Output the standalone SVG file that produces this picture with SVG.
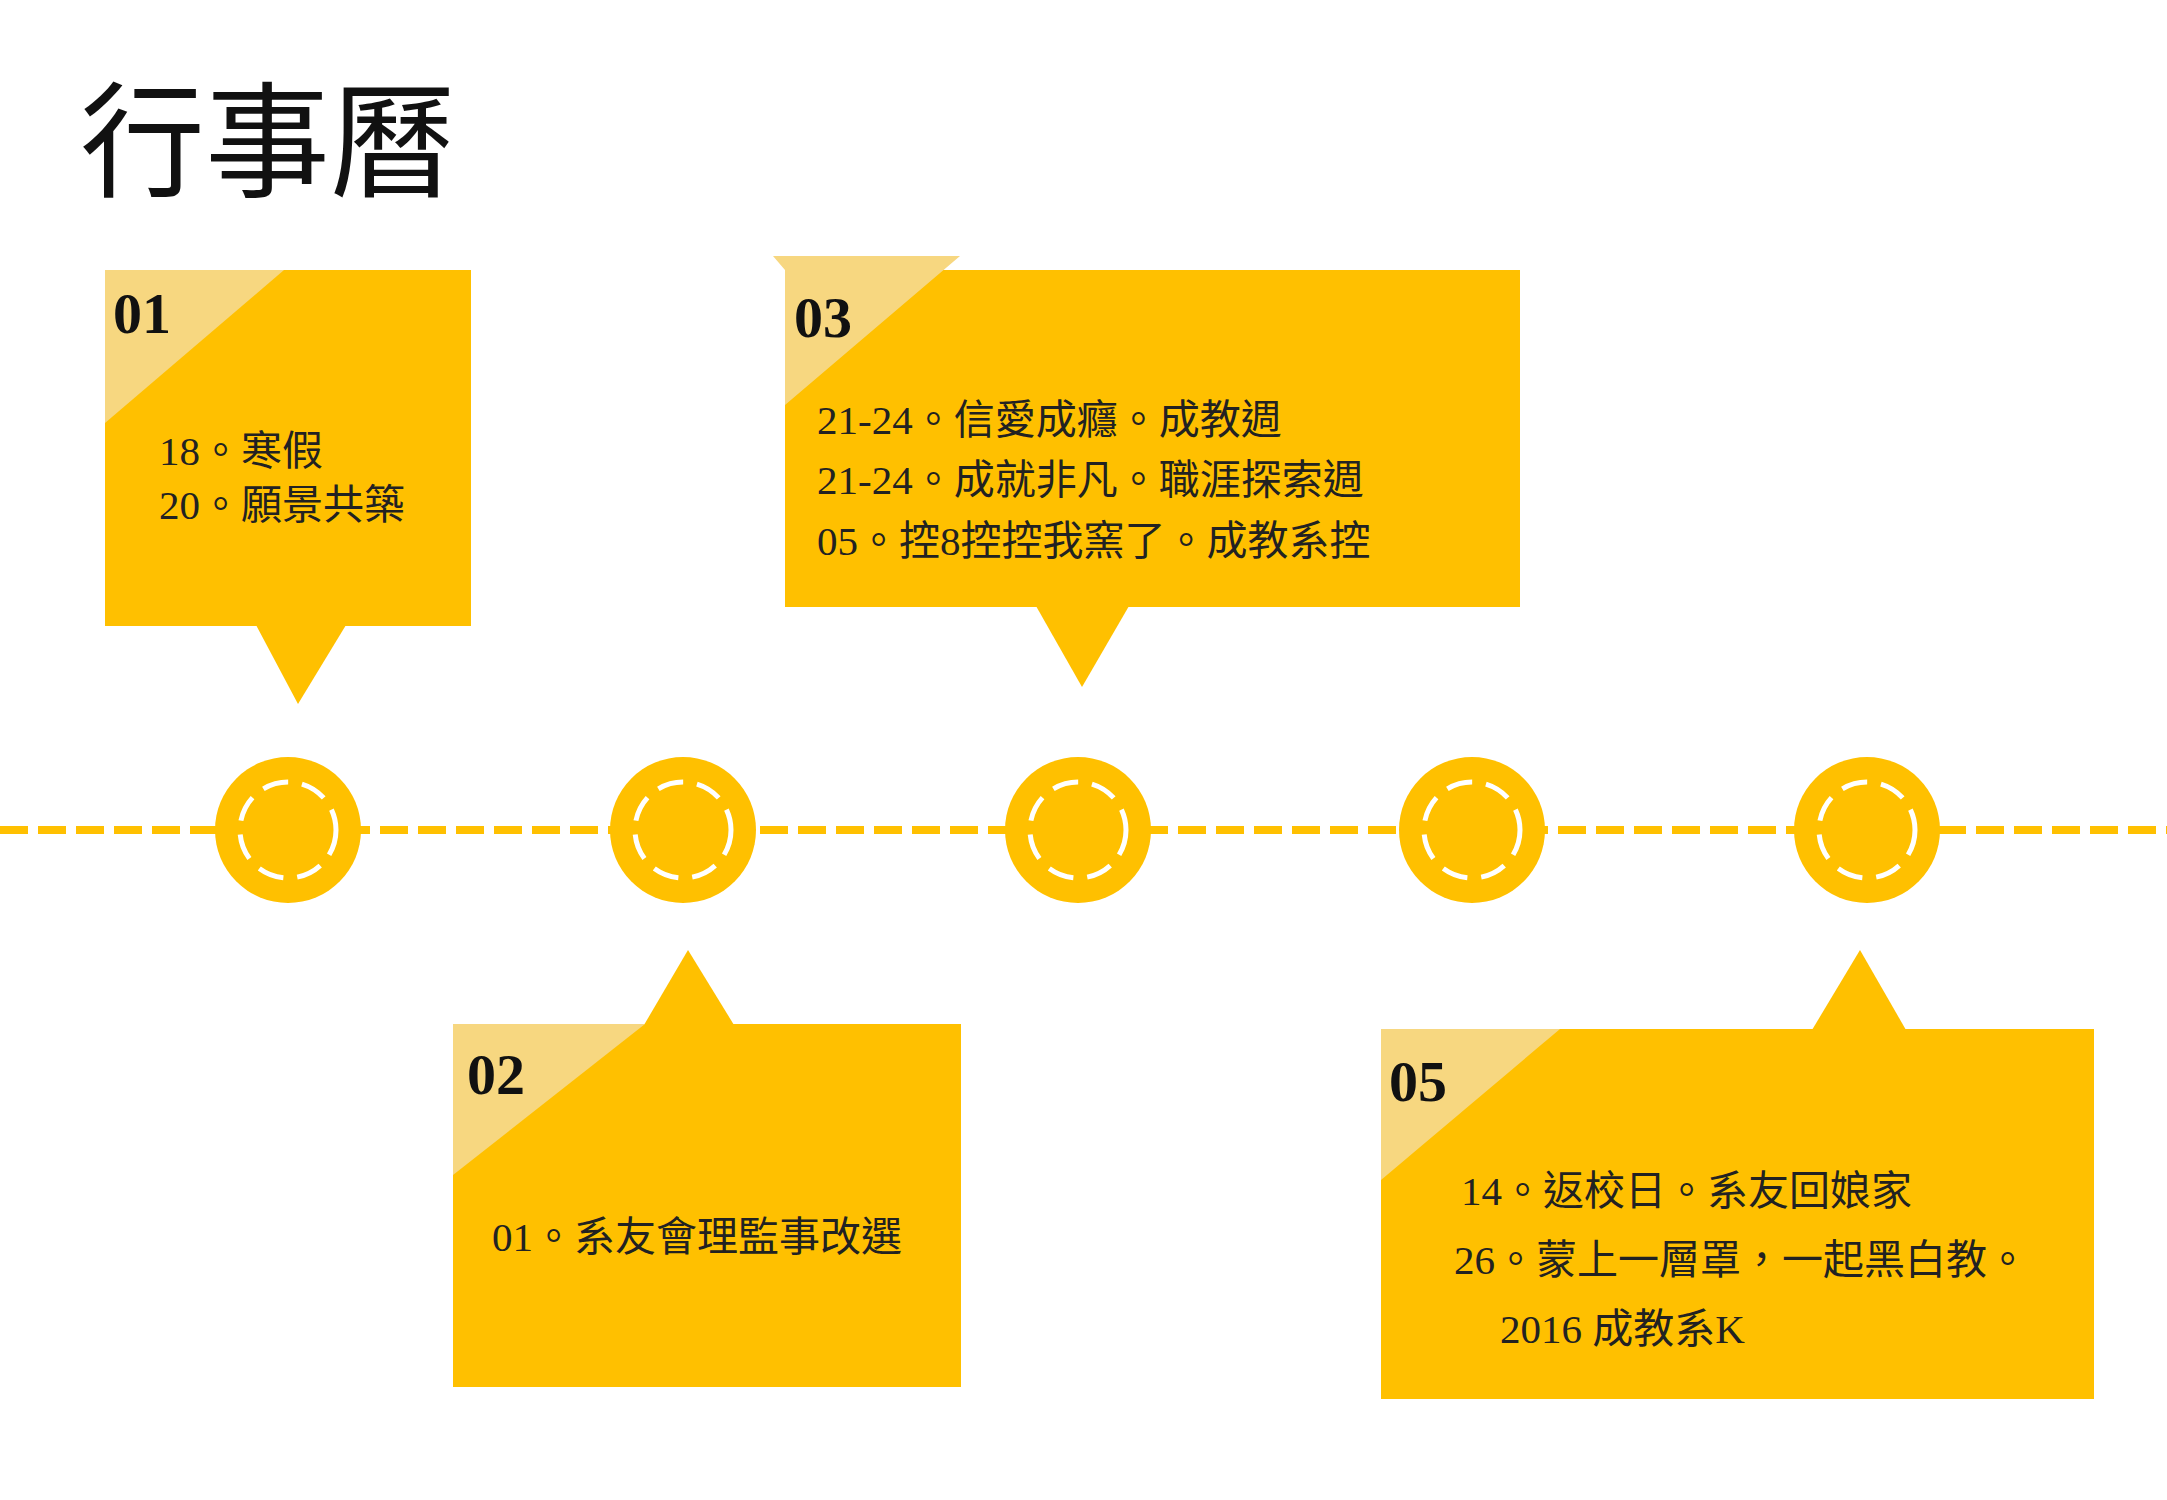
<svg xmlns="http://www.w3.org/2000/svg" width="2167" height="1500" viewBox="0 0 2167 1500">
<style>
.box{fill:#FFC000}
.fold{fill:#F7D780}
.num{font-family:"Liberation Serif",serif;font-weight:bold;font-size:58px;fill:#111}
.t{font-family:"Liberation Serif","Noto Sans CJK TC",serif;font-size:41px;fill:#222}
.ring{fill:#FFC000}
.inner{fill:none;stroke:#fff;stroke-width:5;stroke-dasharray:26 14}
</style>
<rect width="2167" height="1500" fill="#fff"/>
<text x="80" y="187" font-family="Noto Sans CJK TC,sans-serif" font-size="125" fill="#111">行事曆</text>
<g id="connectors">
<line x1="0" y1="830" x2="2167" y2="830" stroke="#FFC000" stroke-width="8" stroke-dasharray="28 10"/>
</g>
<g id="dots">
<circle class="ring" cx="288" cy="830" r="73"/><circle class="inner" cx="288" cy="830" r="48"/>
<circle class="ring" cx="683" cy="830" r="73"/><circle class="inner" cx="683" cy="830" r="48"/>
<circle class="ring" cx="1078" cy="830" r="73"/><circle class="inner" cx="1078" cy="830" r="48"/>
<circle class="ring" cx="1472" cy="830" r="73"/><circle class="inner" cx="1472" cy="830" r="48"/>
<circle class="ring" cx="1867" cy="830" r="73"/><circle class="inner" cx="1867" cy="830" r="48"/>
</g>
<g id="box1">
<rect class="box" x="105" y="270" width="366" height="356"/>
<polygon class="box" points="256,625 346,625 298,704"/>
<polygon class="fold" points="105,270 284,270 105,423"/>
<text class="num" x="113" y="333">01</text>
<text class="t" x="159" y="465">18。寒假</text>
<text class="t" x="159" y="519">20。願景共築</text>
</g>
<g id="box3">
<rect class="box" x="785" y="270" width="735" height="337"/>
<polygon class="box" points="1036,606 1129,606 1082,687"/>
<polygon class="fold" points="773,256 960,256 785,405 785,270"/>
<text class="num" x="794" y="337">03</text>
<text class="t" x="817" y="434">21-24。信愛成癮。成教週</text>
<text class="t" x="817" y="494">21-24。成就非凡。職涯探索週</text>
<text class="t" x="817" y="555">05。控8控控我窯了。成教系控</text>
</g>
<g id="box2">
<rect class="box" x="453" y="1024" width="508" height="363"/>
<polygon class="box" points="644,1025 734,1025 688,950"/>
<polygon class="fold" points="453,1024 645,1024 453,1175"/>
<text class="num" x="467" y="1094">02</text>
<text class="t" x="492" y="1251">01。系友會理監事改選</text>
</g>
<g id="box5">
<rect class="box" x="1381" y="1029" width="713" height="370"/>
<polygon class="box" points="1812,1030 1906,1030 1860,950"/>
<polygon class="fold" points="1381,1029 1560,1029 1381,1180"/>
<text class="num" x="1389" y="1101">05</text>
<text class="t" x="1461" y="1205">14。返校日。系友回娘家</text>
<text class="t" x="1454" y="1274">26。蒙上一層罩，一起黑白教。</text>
<text class="t" x="1500" y="1343">2016 成教系K</text>
</g>
</svg>
